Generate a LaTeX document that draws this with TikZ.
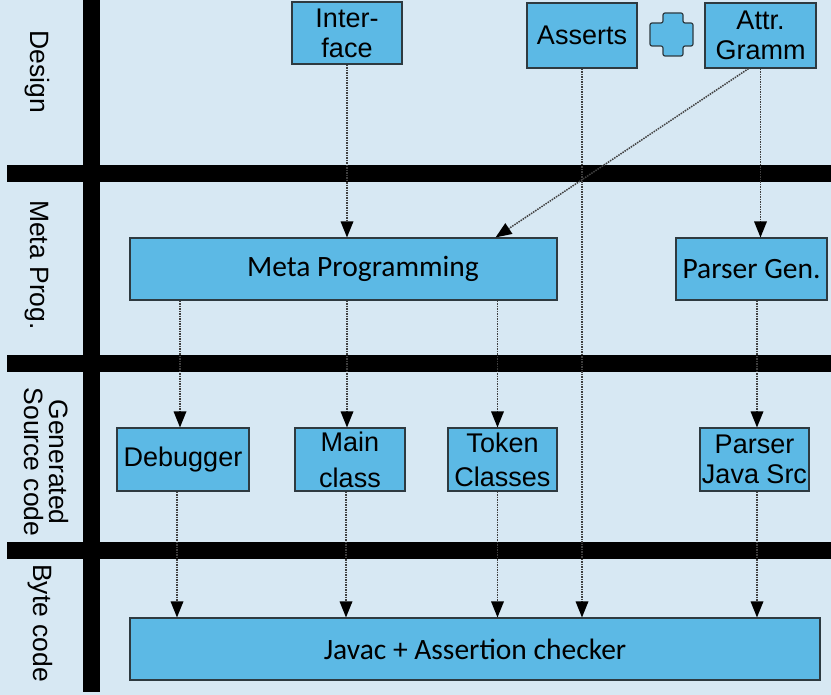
\documentclass[tikz,border=0pt]{standalone}
\usepackage{fontspec}
\setmainfont{Liberation Sans}
\newfontfamily\calib{Carlito}
\usetikzlibrary{arrows.meta}
\definecolor{bgc}{HTML}{D7E8F3}
\definecolor{boxc}{HTML}{5CB9E5}
\definecolor{edgec}{HTML}{2E3A40}
\tikzset{
  box/.style={draw=edgec, line width=1.2pt, fill=boxc, inner sep=0pt, align=center, font=\fontsize{27}{30}\selectfont},
  cbox/.style={box, font=\calib\fontsize{29.5}{32}\selectfont},
  arr/.style={draw=black!75, line width=1.5pt, densely dotted, -{Triangle[width=13pt,length=16pt,fill=black,line width=0pt]}},
  lane/.style={rotate=-90, align=center, inner sep=0pt, font=\fontsize{26.5}{25}\selectfont},
  bar/.style={fill=black, draw=none}
}
\begin{document}
\begin{tikzpicture}[x=1pt,y=-1pt]
\fill[bgc] (0,0) rectangle (831,695);
\useasboundingbox (0,0) rectangle (831,695);
% bars
\fill[bar] (83,0) rectangle (100,692);
\fill[bar] (7,165) rectangle (831,182);
\fill[bar] (7,355) rectangle (831,372);
\fill[bar] (7,542) rectangle (831,559);
% lane labels
\node[lane] (l1) at (37,72) {Design};
\node[lane] (l2) at (37,265) {Meta Prog.};
\node[lane] (l3) at (46,462) {Generated\\Source code};
\node[lane] (l4) at (40,623) {Byte code};
% boxes
\node[box, minimum width=110pt, minimum height=62pt] (iface) at (347,33) {Inter-\\face};
\node[box, minimum width=110pt, minimum height=65pt] (asserts) at (582,35.5) {Asserts};
\node[box, minimum width=111pt, minimum height=65pt] (attr) at (760.5,35.5) {Attr.\\Gramm};
\draw[draw=edgec, line width=1.2pt, fill=boxc, rounded corners=2pt] (650,23) -- (663,23) -- (663,13) -- (683,13) -- (683,23) -- (693,23) -- (693,46) -- (683,46) -- (683,56) -- (663,56) -- (663,46) -- (650,46) -- cycle;
\node[cbox, minimum width=427pt, minimum height=62pt] (meta) at (343.5,269) {\hspace*{39pt}Meta Programming};
\node[cbox, minimum width=151pt, minimum height=62pt] (pgen) at (751.5,269) {Parser Gen.};
\node[box, minimum width=132pt, minimum height=63pt] (debug) at (183,459.5) {Debugger};
\node[box, minimum width=110pt, minimum height=63pt, font=\fontsize{27}{36}\selectfont] (mainc) at (350,459.5) {Main\\class};
\node[box, minimum width=109pt, minimum height=63pt, font=\fontsize{27}{34}\selectfont] (token) at (502.5,459.5) {Token\\Classes};
\node[box, minimum width=109pt, minimum height=63pt, font=\fontsize{27}{30}\selectfont] (pjava) at (754.5,459.5) {Parser\\Java Src};
\node[cbox, minimum width=690pt, minimum height=62pt] (javac) at (475,649) {Javac + Assertion checker};
% arrows
\draw[arr] (iface.south) -- (iface.south |- meta.north);
\draw[arr] ([xshift=-12pt]attr.south) -- ([xshift=-62pt]meta.north east);
\draw[arr] (attr.south) -- (attr.south |- pgen.north);
\draw[arr] (asserts.south) -- (asserts.south |- javac.north);
\draw[arr] ([xshift=-3pt]debug.north |- meta.south) -- ([xshift=-3pt]debug.north);
\draw[arr] ([xshift=-3pt]mainc.north |- meta.south) -- ([xshift=-3pt]mainc.north);
\draw[arr] ([xshift=-5pt]token.north |- meta.south) -- ([xshift=-5pt]token.north);
\draw[arr] ([xshift=2.5pt]pjava.north |- pgen.south) -- ([xshift=2.5pt]pjava.north);
\draw[arr] ([xshift=-6pt]debug.south) -- ([xshift=-6pt]debug.south |- javac.north);
\draw[arr] ([xshift=-4pt]mainc.south) -- ([xshift=-4pt]mainc.south |- javac.north);
\draw[arr] ([xshift=-5pt]token.south) -- ([xshift=-5pt]token.south |- javac.north);
\draw[arr] ([xshift=2.5pt]pjava.south) -- ([xshift=2.5pt]pjava.south |- javac.north);
\end{tikzpicture}
\end{document}
